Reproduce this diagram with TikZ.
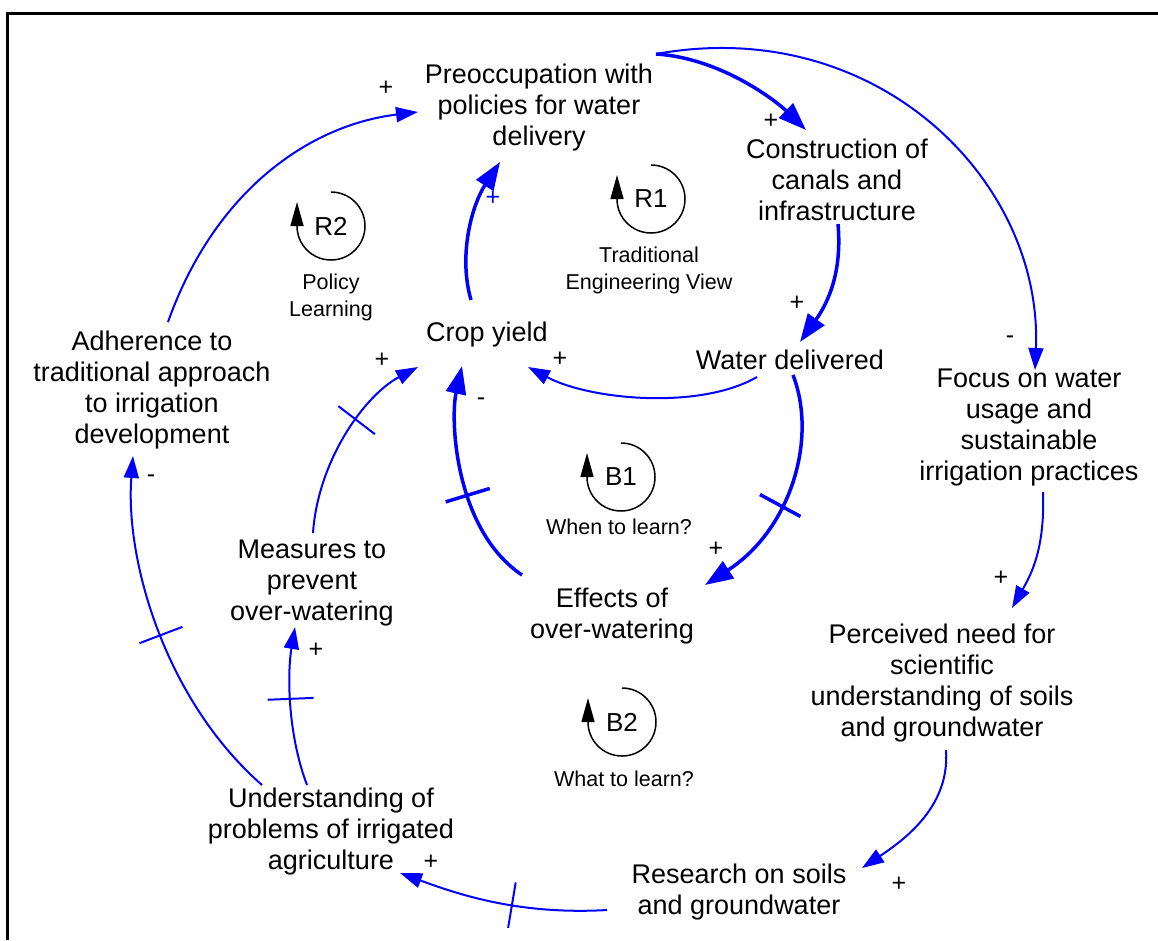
\documentclass[tikz,border=0pt]{standalone}
\usepackage{fontspec}
\setmainfont{Liberation Sans}
\usetikzlibrary{arrows.meta,decorations.markings}
\definecolor{linkblue}{RGB}{0,0,255}
\begin{document}
\begin{tikzpicture}[x=1pt,y=-1pt,
  var/.style={align=center,inner sep=0pt,font=\fontsize{27}{31}\selectfont},
  sign/.style={inner sep=0pt,font=\fontsize{25}{25}\selectfont},
  loopname/.style={inner sep=0pt,font=\fontsize{26}{26}\selectfont},
  looptext/.style={align=center,inner sep=0pt,font=\fontsize{21.5}{27}\selectfont},
  loopline/.style={draw=black,line width=1.5pt,-{Triangle[length=24pt,width=13pt]}},
  link/.style={draw=linkblue,line width=2pt,-{Triangle[length=22pt,width=15pt]}},
  strong/.style={draw=linkblue,line width=3.5pt,-{Triangle[length=28pt,width=20pt]}},
  delay/.style={postaction={decorate,decoration={markings,
    mark=at position #1 with {\draw[-,linkblue,line width=2pt] (0pt,-23pt) -- (0pt,23pt);}}}},
  delaythick/.style={postaction={decorate,decoration={markings,
    mark=at position #1 with {\draw[-,linkblue,line width=3.5pt] (0pt,-23pt) -- (0pt,23pt);}}}}
]
\useasboundingbox (0,0) rectangle (1158,940);
% frame
\draw[line width=3pt] (7,940) -- (7,13) -- (1158,13);

% variables
\node[var] (prec) at (539,108) {Preoccupation with\\policies for water\\delivery};
\node[var] (cons) at (837,180) {Construction of\\canals and\\infrastructure};
\node[var] (crop) at (487,335) {Crop yield};
\node[var] (wdel) at (790,360) {Water delivered};
\node[var] (adh) at (152,390) {Adherence to\\traditional approach\\to irrigation\\development};
\node[var] (focus) at (1029,428) {Focus on water\\usage and\\sustainable\\irrigation practices};
\node[var] (meas) at (312,583) {Measures to\\prevent\\over-watering};
\node[var] (eff) at (612,616) {Effects of\\over-watering};
\node[var] (perc) at (942,683) {Perceived need for\\scientific\\understanding of soils\\and groundwater};
\node[var] (und) at (331,832) {Understanding of\\problems of irrigated\\agriculture};
\node[var] (res) at (739,892) {Research on soils\\and groundwater};

% causal links
\draw[strong] ([shift={(117,-54)}]prec.center) .. controls +(64,4) and +(-31,-30) .. ([shift={(-31,-50)}]cons.center);
\draw[link] ([shift={(117,-54)}]prec.center) .. controls +(220,-40) and +(8,-190) .. ([shift={(6,-58)}]focus.center);
\draw[strong] ([shift={(1,44)}]cons.center) .. controls +(4,45) and +(30,-42) .. ([shift={(10,-18)}]wdel.center);
\draw[link] ([shift={(-33,17)}]wdel.center) .. controls +(-57,33) and +(62,33) .. ([shift={(41,32)}]crop.center);
\draw[strong] ([shift={(-16,-35)}]crop.center) .. controls +(-13,-45) and +(-28,43) .. ([shift={(-39,54)}]prec.center);
\draw[strong,delaythick=0.55] ([shift={(3,15)}]wdel.center) .. controls +(25,65) and +(85,-55) .. ([shift={(93,-31)}]eff.center);
\draw[strong,delaythick=0.43] ([shift={(-90,-41)}]eff.center) .. controls +(-67,-45) and +(-12,54) .. ([shift={(-25,31)}]crop.center);
\draw[link,delay=0.6] ([shift={(1,-50)}]meas.center) .. controls +(5,-73) and +(-53,28) .. ([shift={(-69,32)}]crop.center);
\draw[link] ([shift={(16,-68)}]adh.center) .. controls +(47,-132) and +(-108,13) .. ([shift={(-121,4)}]prec.center);
\draw[link,delay=0.5] ([shift={(-69,-47)}]und.center) .. controls +(-97,-85) and +(-8,104) .. ([shift={(-19,66)}]adh.center);
\draw[link,delay=0.55] ([shift={(-24,-47)}]und.center) .. controls +(-19,-50) and +(-8,48) .. ([shift={(-17,44)}]meas.center);
\draw[link] ([shift={(14,64)}]focus.center) .. controls +(2,55) and +(20,-35) .. ([shift={(70,-75)}]perc.center);
\draw[link] ([shift={(4,67)}]perc.center) .. controls +(4,55) and +(45,-30) .. ([shift={(123,-24)}]res.center);
\draw[link,delay=0.45] ([shift={(-132,18)}]res.center) .. controls +(-87,5) and +(60,22) .. ([shift={(69,41)}]und.center);

% polarity signs
\node[sign] (s1) at (771,121) {+};
\node[sign] (s2) at (1010,340) {-};
\node[sign] (s3) at (797,303) {+};
\node[sign] (s4) at (560,359) {+};
\node[sign,text=linkblue] (s5) at (493,198) {+};
\node[sign] (s6) at (716,549) {+};
\node[sign] (s7) at (481,402) {-};
\node[sign] (s8) at (382,360) {+};
\node[sign] (s9) at (386,88) {+};
\node[sign] (s10) at (151,479) {-};
\node[sign] (s11) at (316,650) {+};
\node[sign] (s12) at (1001,578) {+};
\node[sign] (s13) at (899,884) {+};
\node[sign] (s14) at (431,862) {+};

% loop markers
\node[loopname] (r1) at (651,199) {R1};
\draw[loopline] ([shift={(0,-34)}]r1.center) arc[start angle=-90,end angle=180,radius=34] -- ++(0,-24);
\node[looptext] (r1t) at (649,270) {Traditional\\Engineering View};

\node[loopname] (r2) at (331,226) {R2};
\draw[loopline] ([shift={(0,-34)}]r2.center) arc[start angle=-90,end angle=180,radius=34] -- ++(0,-24);
\node[looptext] (r2t) at (331,297) {Policy\\Learning};

\node[loopname] (b1) at (621,477) {B1};
\draw[loopline] ([shift={(0,-34)}]b1.center) arc[start angle=-90,end angle=180,radius=34] -- ++(0,-24);
\node[looptext] (b1t) at (619,527) {When to learn?};

\node[loopname] (b2) at (622,722) {B2};
\draw[loopline] ([shift={(0,-34)}]b2.center) arc[start angle=-90,end angle=180,radius=34] -- ++(0,-24);
\node[looptext] (b2t) at (624,779) {What to learn?};
\end{tikzpicture}
\end{document}
